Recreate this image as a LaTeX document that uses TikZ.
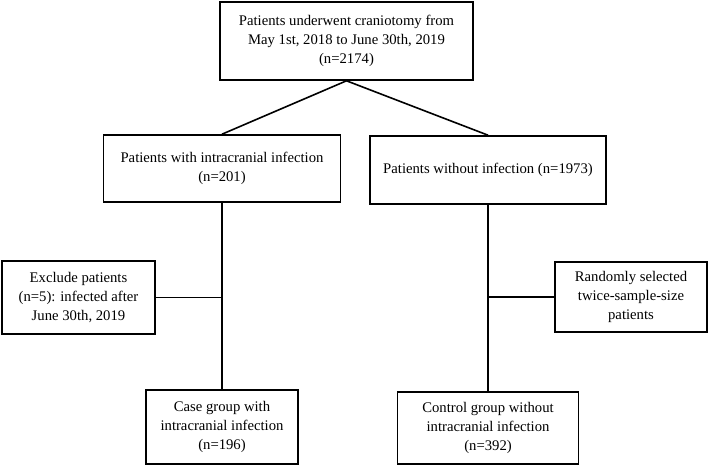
\documentclass[tikz,border=0pt]{standalone}
\usepackage{fontspec}
\setmainfont{Liberation Serif}
\begin{document}
\begin{tikzpicture}[x=1pt,y=-1pt,
  box/.style={draw,line width=1.6pt,rectangle,align=center,inner sep=0pt,
    font=\fontsize{14.7}{19}\selectfont},
  conn/.style={line width=1.6pt}]
\useasboundingbox (0,0) rectangle (709,465);
\node[box,minimum width=253pt,minimum height=78pt] (top) at (346.5,41)
  {Patients underwent craniotomy from\\May 1st, 2018 to June 30th, 2019\\(n=2174)};
\node[box,minimum width=237pt,minimum height=67pt] (inf) at (222,168.5)
  {Patients with intracranial infection\\(n=201)};
\node[box,minimum width=236pt,minimum height=68pt] (noinf) at (488,170)
  {Patients without infection (n=1973)};
\node[box,minimum width=153pt,minimum height=73pt] (excl) at (78.5,297.5)
  {Exclude patients\\(n=5): infected after\\June 30th, 2019};
\node[box,minimum width=152pt,minimum height=70pt] (rand) at (631,297)
  {Randomly selected\\twice-sample-size\\patients};
\node[box,minimum width=152pt,minimum height=74pt] (case) at (222,427)
  {Case group with\\intracranial infection\\(n=196)};
\node[box,minimum width=181pt,minimum height=72pt] (ctrl) at (488,428)
  {Control group without\\intracranial infection\\(n=392)};
\draw[conn] (top.south) -- (inf.north);
\draw[conn] (top.south) -- (noinf.north);
\draw[conn] (inf.south) -- (case.north);
\draw[conn] (noinf.south) -- (ctrl.north);
\draw[conn] (excl.east) -- (excl.east -| case.north);
\draw[conn] (rand.west) -- (rand.west -| ctrl.north);
\end{tikzpicture}
\end{document}
